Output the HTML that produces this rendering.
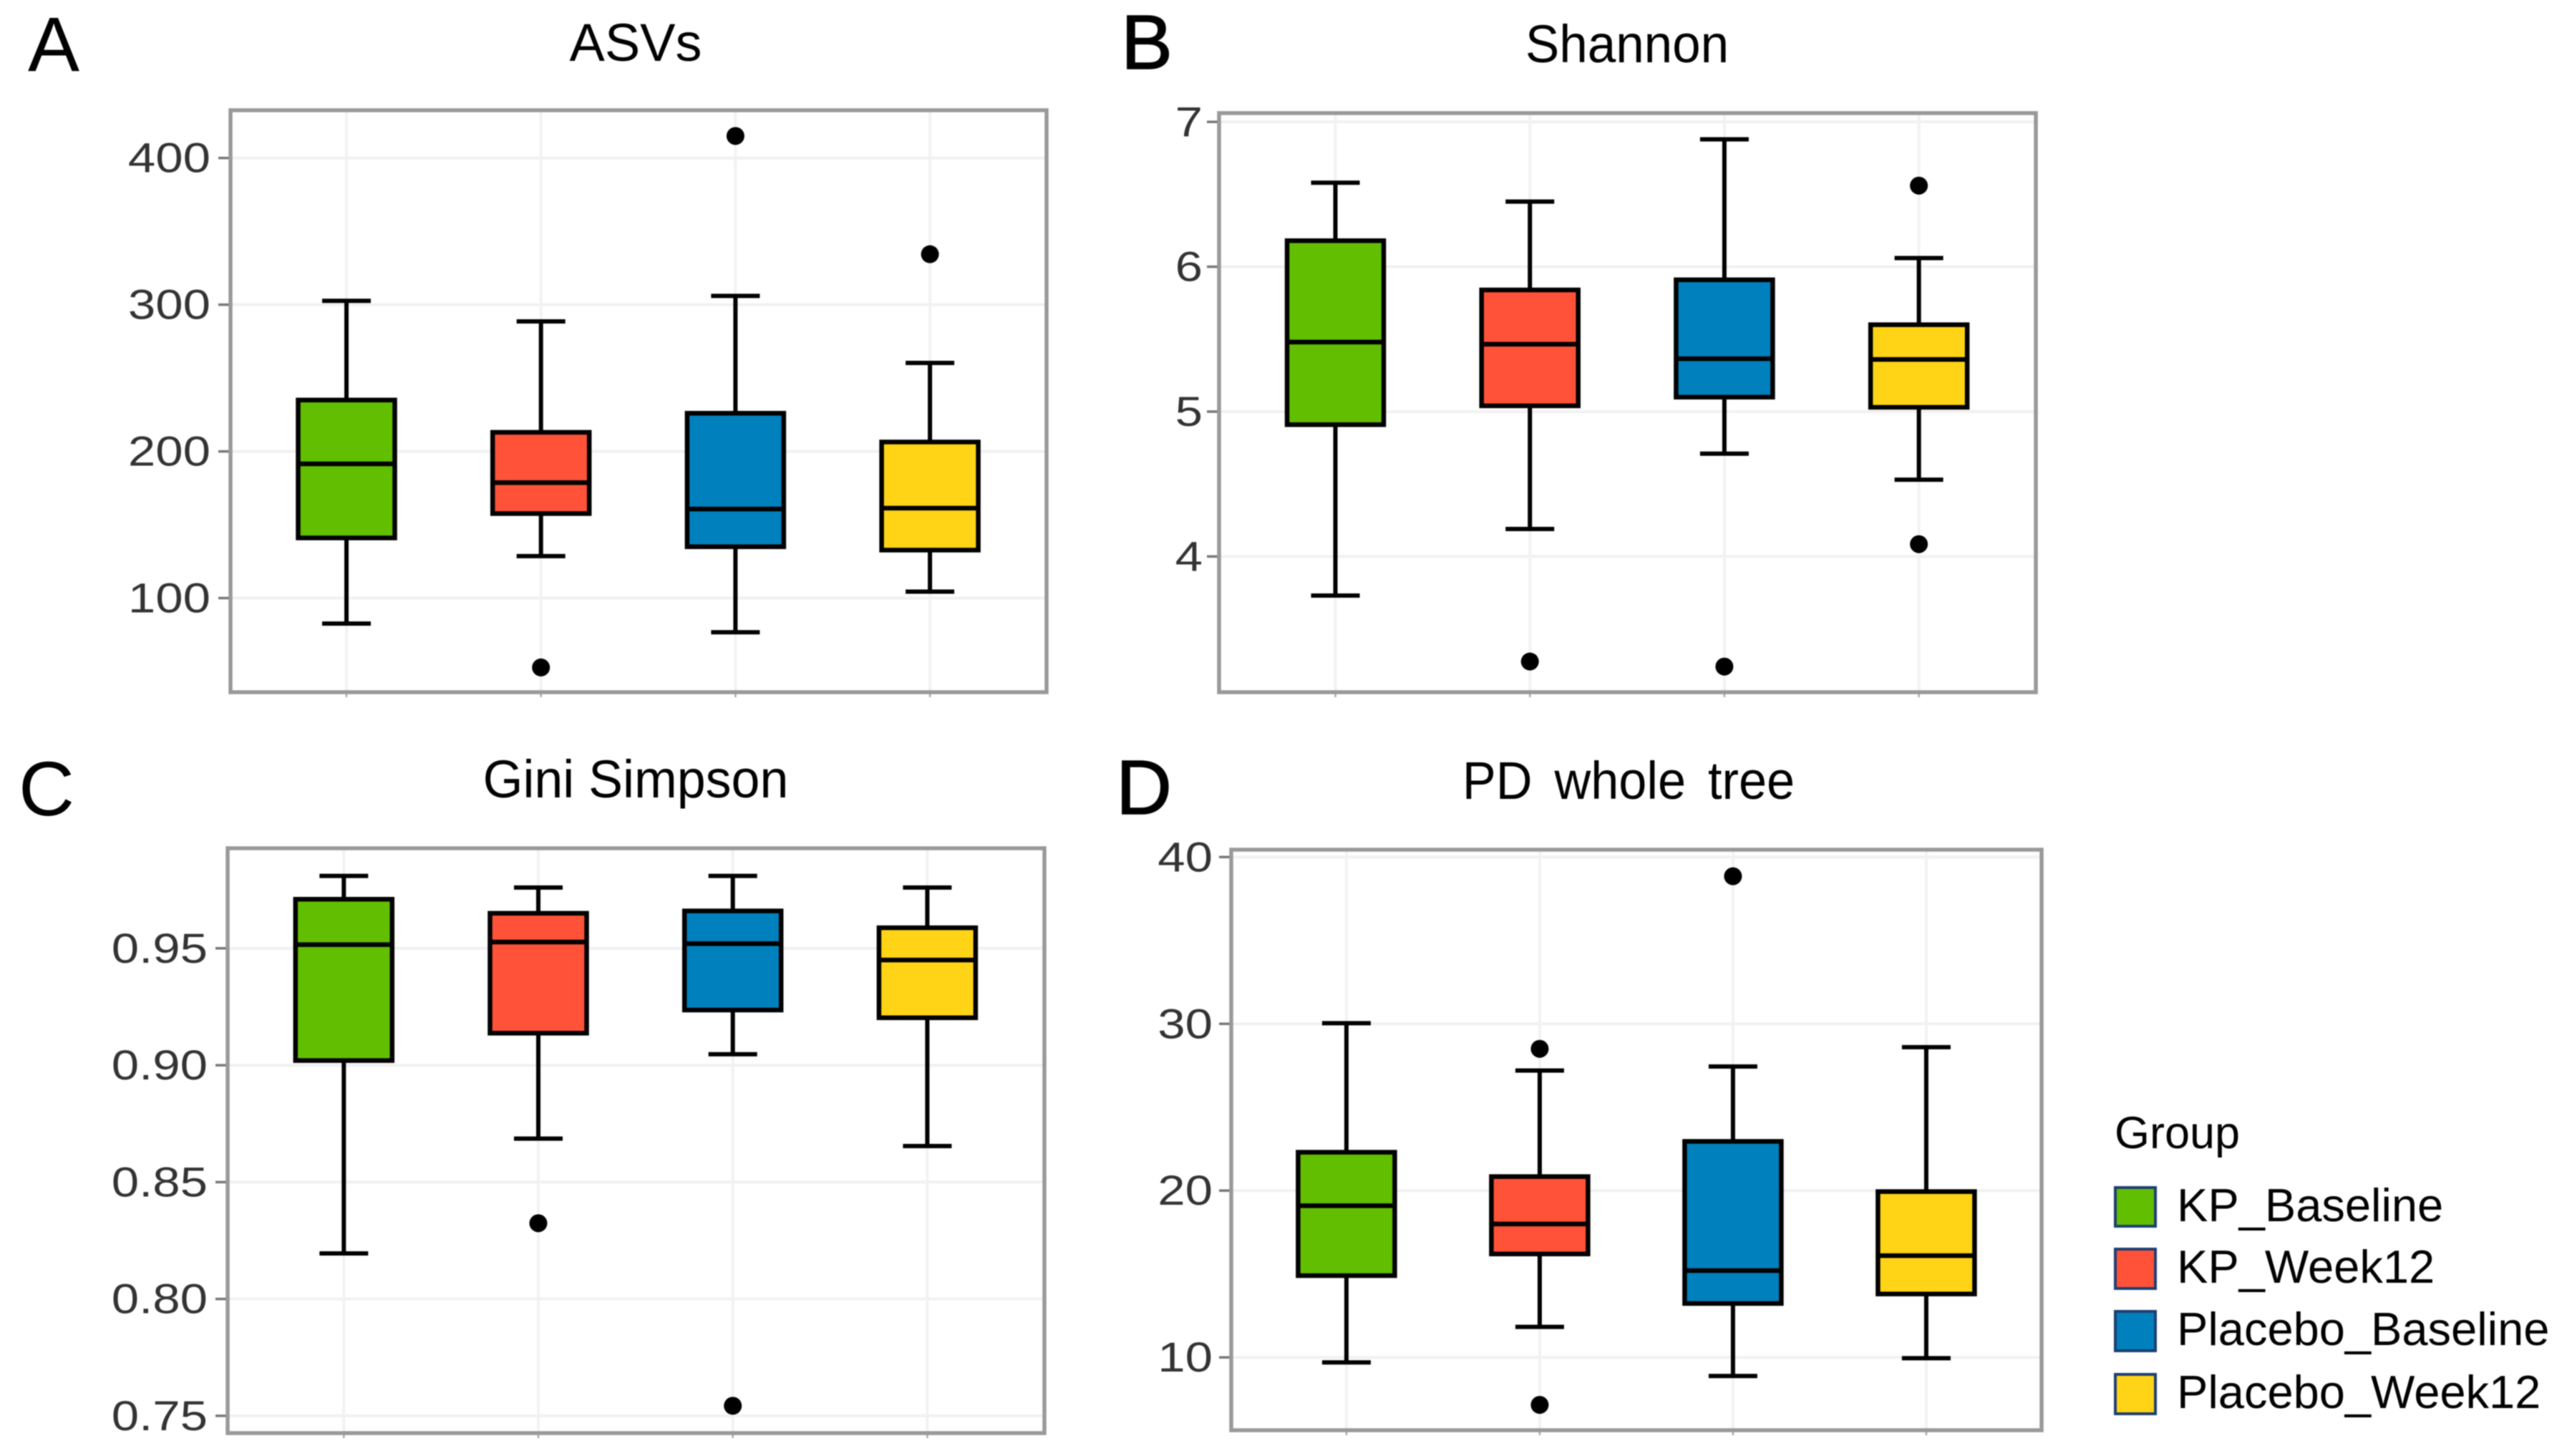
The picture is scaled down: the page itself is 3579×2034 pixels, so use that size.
<!DOCTYPE html>
<html lang="en">
<head>
<meta charset="utf-8">
<title>Alpha diversity box plots</title>
<style>
html,body{margin:0;padding:0;background:#fff;width:3579px;height:2034px;overflow:hidden}
svg{display:block;font-family:"Liberation Sans",sans-serif;filter:blur(0.8px)}
</style>
</head>
<body>
<svg id="figure" width="3579" height="2034" viewBox="0 0 3579 2034" xmlns="http://www.w3.org/2000/svg">
  <rect width="3579" height="2034" fill="#ffffff"/>

  <text x="39" y="99" font-size="108" fill="#000">A</text>
  <text x="1566" y="96" font-size="108" fill="#000" stroke="#000" stroke-width="1.5">B</text>
  <text x="26" y="1139" font-size="108" fill="#000">C</text>
  <text x="1559" y="1137" font-size="108" fill="#000" stroke="#000" stroke-width="1.5">D</text>

  <text text-anchor="middle" font-size="74" fill="#000" transform="translate(888,85) scale(1,1)">ASVs</text>
  <text text-anchor="middle" font-size="74" fill="#000" transform="translate(2273,87) scale(0.96,1)">Shannon</text>
  <text text-anchor="middle" font-size="74" fill="#000" transform="translate(888,1114) scale(0.97,1)">Gini Simpson</text>
  <text text-anchor="middle" font-size="74" fill="#000" word-spacing="12" transform="translate(2275,1116) scale(0.95,1)">PD whole tree</text>

  <g id="panels"></g>

  <g>
    <text x="2954" y="1604" font-size="63" fill="#000">Group</text>
    <g>
      <rect x="2955" y="1659" width="56" height="54" fill="#62BE00" stroke="#1d3f72" stroke-width="4"/>
      <text x="3041" y="1706" font-size="65" fill="#000">KP_Baseline</text>
    </g>
    <g>
      <rect x="2955" y="1745" width="56" height="55" fill="#FF5238" stroke="#1d3f72" stroke-width="4"/>
      <text x="3041" y="1792" font-size="65" fill="#000">KP_Week12</text>
    </g>
    <g>
      <rect x="2955" y="1832" width="56" height="55" fill="#0080BC" stroke="#1d3f72" stroke-width="4"/>
      <text x="3041" y="1879" font-size="65" fill="#000">Placebo_Baseline</text>
    </g>
    <g>
      <rect x="2955" y="1920" width="56" height="55" fill="#FFD416" stroke="#1d3f72" stroke-width="4"/>
      <text x="3041" y="1967" font-size="65" fill="#000">Placebo_Week12</text>
    </g>
  </g>
</svg>

<script>
// Groups, in plotting order
var categories = ['KP_Baseline', 'KP_Week12', 'Placebo_Baseline', 'Placebo_Week12'];

// Panel A: ASVs
var asvsTicks = [100, 200, 300, 400];
var asvsTickLabels = ['100', '200', '300', '400'];
var asvsWhiskerHigh = [302.6, 288.6, 306, 260.3];
var asvsQ3 = [235, 213, 226, 206.4];
var asvsMedian = [191.5, 178.7, 160.7, 161.3];
var asvsQ1 = [141, 157.6, 135, 132.7];
var asvsWhiskerLow = [82.6, 128.6, 76.7, 104.4];
var asvsOutliers = [[], [52.7], [415], [334.4]];

// Panel B: Shannon
var shannonTicks = [4, 5, 6, 7];
var shannonTickLabels = ['4', '5', '6', '7'];
var shannonWhiskerHigh = [6.58, 6.45, 6.88, 6.06];
var shannonQ3 = [6.18, 5.84, 5.91, 5.60];
var shannonMedian = [5.48, 5.465, 5.365, 5.36];
var shannonQ1 = [4.91, 5.04, 5.10, 5.03];
var shannonWhiskerLow = [3.73, 4.19, 4.71, 4.53];
var shannonOutliers = [[], [3.275], [3.24], [6.56, 4.085]];

// Panel C: Gini Simpson
var giniTicks = [0.75, 0.80, 0.85, 0.90, 0.95];
var giniTickLabels = ['0.75', '0.80', '0.85', '0.90', '0.95'];
var giniWhiskerHigh = [0.981, 0.976, 0.981, 0.976];
var giniQ3 = [0.971, 0.965, 0.966, 0.9588];
var giniMedian = [0.9516, 0.9527, 0.952, 0.945];
var giniQ1 = [0.902, 0.9137, 0.9236, 0.9203];
var giniWhiskerLow = [0.8195, 0.8686, 0.9047, 0.8654];
var giniOutliers = [[], [0.8324], [0.7543], []];

// Panel D: PD whole tree
var pdTicks = [10, 20, 30, 40];
var pdTickLabels = ['10', '20', '30', '40'];
var pdWhiskerHigh = [30.04, 27.2, 27.44, 28.6];
var pdQ3 = [22.3, 20.84, 22.95, 19.94];
var pdMedian = [19.09, 18.0, 15.2, 16.1];
var pdQ1 = [14.9, 16.2, 13.23, 13.8];
var pdWhiskerLow = [9.7, 11.83, 8.88, 9.95];
var pdOutliers = [[], [28.5, 7.15], [38.85], []];

var fills = ['#62BE00', '#FF5238', '#0080BC', '#FFD416'];

function el(name, attrs, parent) {
  var node = document.createElementNS('http://www.w3.org/2000/svg', name);
  for (var k in attrs) node.setAttribute(k, attrs[k]);
  parent.appendChild(node);
  return node;
}

function slug(s) {
  return s.toLowerCase().replace(/_/g, '-');
}

function drawPanel(root, p) {
  // Axis functions, calibrated on two reference ticks of the panel
  var yScale = function (v) {
    return p.yA + (v - p.vA) * (p.yB - p.yA) / (p.vB - p.vA);
  };
  var xScale = function (i) {
    return p.xFirst + i * p.xStep;
  };

  var g = el('g', {}, root);
  
  

  p.ticks.forEach(function (t, i) {
    var y = yScale(t);
    var grid = el('line', {x1: p.left, x2: p.right, y1: y, y2: y, stroke: '#f1f1f1', 'stroke-width': 4}, g);
    
    
    var tick = el('line', {x1: p.left - 17, x2: p.left, y1: y, y2: y, stroke: '#777', 'stroke-width': 3.5}, g);
    
    
    var label = el('text', {
      'text-anchor': 'end',
      'font-size': 58,
      fill: '#333',
      transform: 'translate(' + p.labelX + ',' + (y + 20) + ') scale(1.19,1)'
    }, g);
    label.textContent = p.tickLabels[i];
    
    
  });

  categories.forEach(function (c, i) {
    var x = xScale(i);
    var vGrid = el('line', {x1: x, x2: x, y1: p.top, y2: p.bottom, stroke: '#f2f2f2', 'stroke-width': 4}, g);
    
    
    var xTick = el('line', {x1: x, x2: x, y1: p.bottom, y2: p.bottom + 7, stroke: '#aaa', 'stroke-width': 2.5}, g);
    
    
  });

  categories.forEach(function (c, i) {
    var x = xScale(i);
    var box = el('g', {}, g);
    
    

    var whisker = el('line', {x1: x, x2: x, y1: yScale(p.high[i]), y2: yScale(p.low[i]), stroke: '#000', 'stroke-width': 6}, box);
    
    

    var capHigh = el('line', {x1: x - 34, x2: x + 34, y1: yScale(p.high[i]), y2: yScale(p.high[i]), stroke: '#000', 'stroke-width': 6}, box);
    
    

    var capLow = el('line', {x1: x - 34, x2: x + 34, y1: yScale(p.low[i]), y2: yScale(p.low[i]), stroke: '#000', 'stroke-width': 6}, box);
    
    

    var rect = el('rect', {
      x: x - 67.5,
      y: yScale(p.q3[i]),
      width: 135,
      height: yScale(p.q1[i]) - yScale(p.q3[i]),
      fill: fills[i],
      stroke: '#000',
      'stroke-width': 6.5
    }, box);
    
    

    var med = el('line', {x1: x - 67.5, x2: x + 67.5, y1: yScale(p.median[i]), y2: yScale(p.median[i]), stroke: '#000', 'stroke-width': 6.5}, box);
    
    

    p.outliers[i].forEach(function (o) {
      var dot = el('circle', {cx: x, cy: yScale(o), r: 12.5, fill: '#000'}, box);
      
      
    });
  });

  var frame = el('rect', {
    x: p.left,
    y: p.top,
    width: p.right - p.left,
    height: p.bottom - p.top,
    fill: 'none',
    stroke: '#999',
    'stroke-width': 5.5
  }, g);
  
  
}

var root = document.getElementById('panels');

drawPanel(root, {
  id: 'asvs', left: 322, right: 1462, top: 154, bottom: 967,
  xFirst: 484, xStep: 271.7, labelX: 294,
  vA: 100, yA: 835.5, vB: 400, yB: 220.7,
  ticks: asvsTicks, tickLabels: asvsTickLabels,
  high: asvsWhiskerHigh, q3: asvsQ3, median: asvsMedian, q1: asvsQ1, low: asvsWhiskerLow, outliers: asvsOutliers
});

drawPanel(root, {
  id: 'shannon', left: 1703, right: 2844, top: 158, bottom: 967,
  xFirst: 1865.5, xStep: 271.7, labelX: 1680,
  vA: 4, yA: 777.4, vB: 7, yB: 170.3,
  ticks: shannonTicks, tickLabels: shannonTickLabels,
  high: shannonWhiskerHigh, q3: shannonQ3, median: shannonMedian, q1: shannonQ1, low: shannonWhiskerLow, outliers: shannonOutliers
});

drawPanel(root, {
  id: 'gini-simpson', left: 318, right: 1459, top: 1185, bottom: 2002,
  xFirst: 480.3, xStep: 271.7, labelX: 290,
  vA: 0.75, yA: 1977.9, vB: 0.95, yB: 1324.8,
  ticks: giniTicks, tickLabels: giniTickLabels,
  high: giniWhiskerHigh, q3: giniQ3, median: giniMedian, q1: giniQ1, low: giniWhiskerLow, outliers: giniOutliers
});

drawPanel(root, {
  id: 'pd-whole-tree', left: 1720, right: 2852, top: 1187, bottom: 1998,
  xFirst: 1880.9, xStep: 270, labelX: 1694,
  vA: 10, yA: 1896.2, vB: 40, yB: 1197.3,
  ticks: pdTicks, tickLabels: pdTickLabels,
  high: pdWhiskerHigh, q3: pdQ3, median: pdMedian, q1: pdQ1, low: pdWhiskerLow, outliers: pdOutliers
});
</script>
</body>
</html>
